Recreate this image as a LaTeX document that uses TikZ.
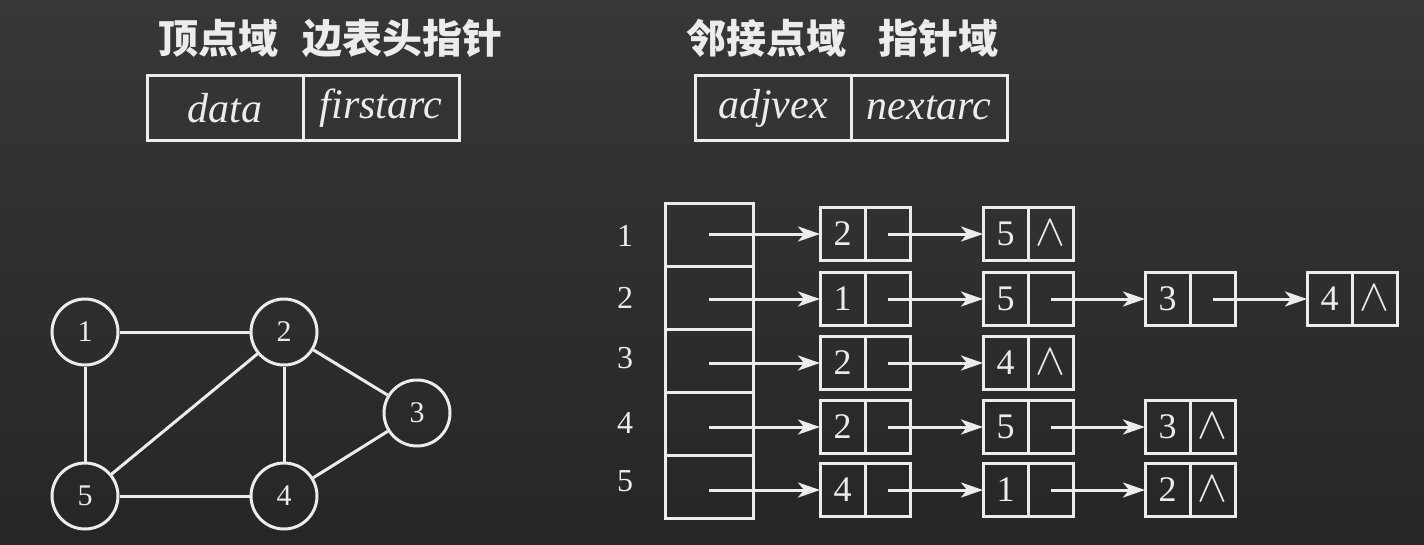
\documentclass[tikz,border=0pt]{standalone}
\usepackage{fontspec}
\setmainfont{Liberation Serif}
\newfontfamily\cjk{Noto Sans CJK SC}
\usetikzlibrary{arrows.meta}
\definecolor{fg}{HTML}{ECECEC}
\definecolor{bgtop}{HTML}{373737}
\definecolor{bgbot}{HTML}{262626}
\newcommand\nilsym{\raisebox{2pt}{\scalebox{1.8}{\fontsize{24.88}{30}\selectfont$\wedge$}}}
\begin{document}
\begin{tikzpicture}[x=1pt,y=-1pt,
  cell/.style={draw=fg,line width=3,minimum width=45,minimum height=53,inner sep=0,outer sep=0,text=fg,font=\fontsize{36}{40}\selectfont},
  vcell/.style={draw=fg,line width=3,minimum width=88,minimum height=63,inner sep=0,outer sep=0},
  field/.style={draw=fg,line width=3,minimum width=156,minimum height=65,inner sep=0,outer sep=0,text=fg,font=\fontsize{42}{48}\selectfont\itshape},
  hdr/.style={text=fg,inner sep=0,font=\cjk\bfseries\fontsize{40}{46}\selectfont},
  rowlbl/.style={text=fg,inner sep=0,font=\fontsize{32}{36}\selectfont},
  vtx/.style={circle,draw=fg,line width=3,minimum size=66,inner sep=0,text=fg,font=\fontsize{30}{34}\selectfont},
  edge/.style={draw=fg,line width=3},
  arr/.style={draw=fg,line width=3,-{Stealth[length=22pt,width=15pt,inset=6pt]}}
]
\fill[top color=bgtop,bottom color=bgbot] (0,0) rectangle (1424,544);
\useasboundingbox (0,0) rectangle (1424,544);

% headers
\node[hdr,anchor=west] (h1) at (158,38) {顶点域\hspace{0.6em}边表头指针};
\node[hdr,anchor=west] (h2) at (686,38) {邻接点域\hspace{0.8em}指针域};

% field boxes
\node[field] (f1) at (225,108) {data};
\node[field] (f2) at (381,108) {firstarc};
\node[field] (f3) at (773,108) {adjvex};
\node[field] (f4) at (929,108) {nextarc};

% graph
\node[vtx] (g1) at (85,332) {1};
\node[vtx] (g2) at (284,332) {2};
\node[vtx] (g3) at (417,413) {3};
\node[vtx] (g4) at (284,496) {4};
\node[vtx] (g5) at (85,496) {5};
\draw[edge] (g1) -- (g2);
\draw[edge] (g1) -- (g5);
\draw[edge] (g2) -- (g5);
\draw[edge] (g2) -- (g4);
\draw[edge] (g2) -- (g3);
\draw[edge] (g3) -- (g4);
\draw[edge] (g5) -- (g4);

% row labels
\node[rowlbl] (l1) at (625,236) {1};
\node[rowlbl] (l2) at (625,298) {2};
\node[rowlbl] (l3) at (625,358) {3};
\node[rowlbl] (l4) at (625,423) {4};
\node[rowlbl] (l5) at (625,481) {5};

% vertex table
\node[vcell] (v1) at (709,234.5) {};
\node[vcell] (v2) at (709,297.5) {};
\node[vcell] (v3) at (709,360.5) {};
\node[vcell] (v4) at (709,423.5) {};
\node[vcell] (v5) at (709,486.5) {};

% row 1
\node[cell] (a1d) at (842.5,234) {2};
\node[cell] (a1p) at (887.5,234) {};
\node[cell] (b1d) at (1005.5,234) {5};
\node[cell] (b1p) at (1050.5,234) {\nilsym};
\draw[arr] (v1.center |- a1d.west) -- (a1d.west);
\draw[arr] (a1p.center) -- (b1d.west);

% row 2
\node[cell] (a2d) at (842.5,299) {1};
\node[cell] (a2p) at (887.5,299) {};
\node[cell] (b2d) at (1005.5,299) {5};
\node[cell] (b2p) at (1050.5,299) {};
\node[cell] (c2d) at (1167.5,299) {3};
\node[cell] (c2p) at (1212.5,299) {};
\node[cell] (d2d) at (1329.5,299) {4};
\node[cell] (d2p) at (1374.5,299) {\nilsym};
\draw[arr] (v2.center |- a2d.west) -- (a2d.west);
\draw[arr] (a2p.center) -- (b2d.west);
\draw[arr] (b2p.center) -- (c2d.west);
\draw[arr] (c2p.center) -- (d2d.west);

% row 3
\node[cell] (a3d) at (842.5,363) {2};
\node[cell] (a3p) at (887.5,363) {};
\node[cell] (b3d) at (1005.5,363) {4};
\node[cell] (b3p) at (1050.5,363) {\nilsym};
\draw[arr] (v3.center |- a3d.west) -- (a3d.west);
\draw[arr] (a3p.center) -- (b3d.west);

% row 4
\node[cell] (a4d) at (842.5,427) {2};
\node[cell] (a4p) at (887.5,427) {};
\node[cell] (b4d) at (1005.5,427) {5};
\node[cell] (b4p) at (1050.5,427) {};
\node[cell] (c4d) at (1167.5,427) {3};
\node[cell] (c4p) at (1212.5,427) {\nilsym};
\draw[arr] (v4.center |- a4d.west) -- (a4d.west);
\draw[arr] (a4p.center) -- (b4d.west);
\draw[arr] (b4p.center) -- (c4d.west);

% row 5
\node[cell] (a5d) at (842.5,490) {4};
\node[cell] (a5p) at (887.5,490) {};
\node[cell] (b5d) at (1005.5,490) {1};
\node[cell] (b5p) at (1050.5,490) {};
\node[cell] (c5d) at (1167.5,490) {2};
\node[cell] (c5p) at (1212.5,490) {\nilsym};
\draw[arr] (v5.center |- a5d.west) -- (a5d.west);
\draw[arr] (a5p.center) -- (b5d.west);
\draw[arr] (b5p.center) -- (c5d.west);
\end{tikzpicture}
\end{document}
